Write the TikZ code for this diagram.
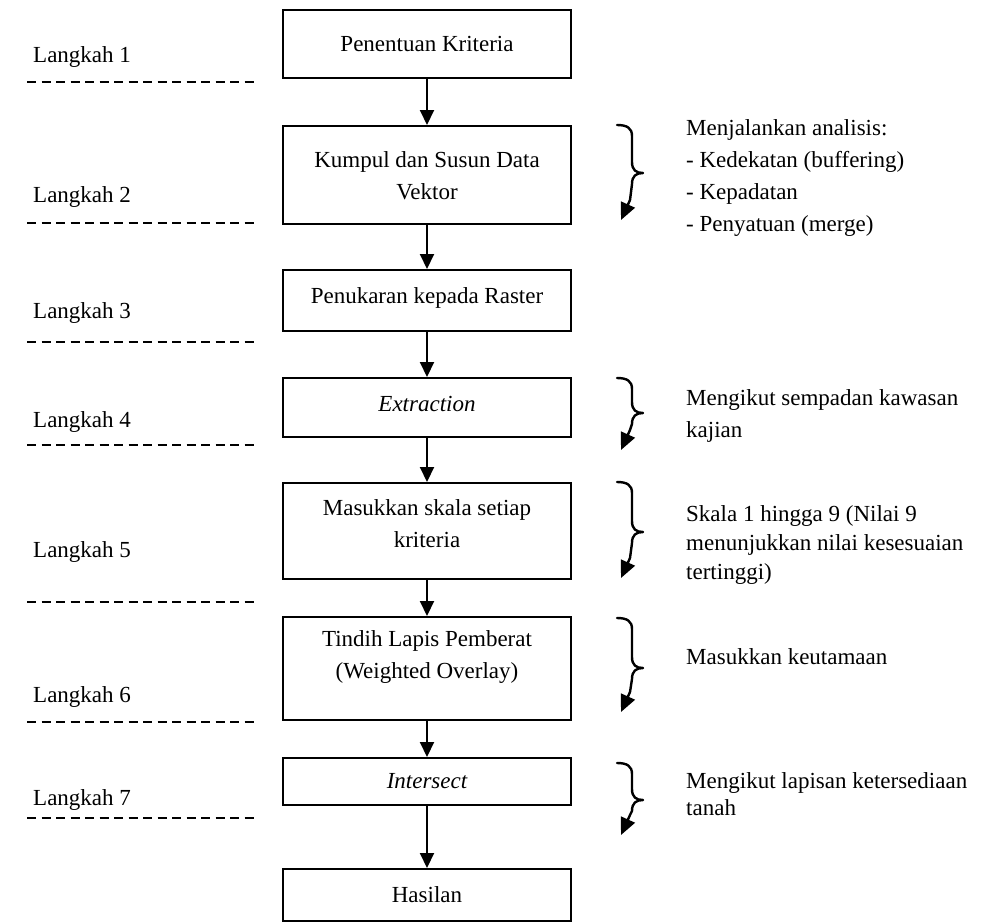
\documentclass[tikz,border=0pt]{standalone}
\usepackage{fontspec}
\setmainfont{Liberation Serif}
\usetikzlibrary{arrows.meta}
\begin{document}
\begin{tikzpicture}[x=1pt,y=-1pt,
  box/.style={draw,line width=2pt,minimum width=288pt,inner sep=0pt},
  txt/.style={font=\fontsize{23}{32}\selectfont,align=center,inner sep=0pt},
  side/.style={font=\fontsize{23}{#1}\selectfont,align=left,inner sep=0pt,anchor=west},
  side/.default=31,
  langlabel/.style={font=\fontsize{23}{28}\selectfont,inner sep=0pt,anchor=west},
  flow/.style={line width=2pt,-{Triangle[length=15pt,width=14pt]}},
  dashline/.style={line width=1.6pt,dash pattern=on 9pt off 5.5pt},
  brc/.style={line width=2.4pt,-{Triangle[length=17pt,width=15pt]},line join=round,line cap=round}
]
\useasboundingbox (0,0) rectangle (982,922);

\newcommand\mybrace[3]{%
  \draw[brc] (617,#1) .. controls (627,#1) and (632,#1+3) .. (632,#1+11)
    -- (632,#2-11) .. controls (632,#2-3) and (636,#2) .. (643,#2)
    .. controls (636,#2) and (632,#2+3) .. (632,#2+11)
    -- (630,#3-20) -- (621,#3);}

% boxes
\node[box,minimum height=68pt]  (b1) at (427,44) {};
\node[box,minimum height=98pt]  (b2) at (427,175) {};
\node[box,minimum height=61pt]  (b3) at (427,300.5) {};
\node[box,minimum height=59pt]  (b4) at (427,407.5) {};
\node[box,minimum height=96pt]  (b5) at (427,531) {};
\node[box,minimum height=103pt] (b6) at (427,668.5) {};
\node[box,minimum height=47pt]  (b7) at (427,781.5) {};
\node[box,minimum height=52pt]  (b8) at (427,895) {};

% box texts
\node[txt] (t1) at (427,44) {Penentuan Kriteria};
\node[txt] (t2) at (427,176) {Kumpul dan Susun Data\\Vektor};
\node[txt] (t3) at (427,298) {Penukaran kepada Raster};
\node[txt] (t4) at (427,404) {\itshape Extraction};
\node[txt] (t5) at (427,524) {Masukkan skala setiap\\kriteria};
\node[txt] (t6) at (427,657) {Tindih Lapis Pemberat\\(Weighted Overlay)};
\node[txt] (t7) at (427,781) {\itshape Intersect};
\node[txt] (t8) at (427,895) {Hasilan};

% arrows
\draw[flow] (b1) -- (b2);
\draw[flow] (b2) -- (b3);
\draw[flow] (b3) -- (b4);
\draw[flow] (b4) -- (b5);
\draw[flow] (b5) -- (b6);
\draw[flow] (b6) -- (b7);
\draw[flow] (b7) -- (b8);

% step labels and dashed lines
\node[langlabel] (l1) at (33,57) {Langkah 1};
\node[langlabel] (l2) at (33,197) {Langkah 2};
\node[langlabel] (l3) at (33,313) {Langkah 3};
\node[langlabel] (l4) at (33,422) {Langkah 4};
\node[langlabel] (l5) at (33,552) {Langkah 5};
\node[langlabel] (l6) at (33,697) {Langkah 6};
\node[langlabel] (l7) at (33,800) {Langkah 7};
\foreach \y in {82,223,342,445,602,722,818}
  \draw[dashline] (27,\y) -- (258,\y);

% braces
\mybrace{125}{173}{220}
\mybrace{378}{413}{450}
\mybrace{482}{532}{578}
\mybrace{618}{668}{712}
\mybrace{763}{800}{835}

% side notes
\node[side=31.7] (n2) at (686,178) {Menjalankan analisis:\\- Kedekatan (buffering)\\- Kepadatan\\- Penyatuan (merge)};
\node[side=32] (n4) at (686,416) {Mengikut sempadan kawasan\\kajian};
\node[side=29] (n5) at (686,545) {Skala 1 hingga 9 (Nilai 9\\menunjukkan nilai kesesuaian\\tertinggi)};
\node[side] (n6) at (686,657) {Masukkan keutamaan};
\node[side=27] (n7) at (686,794.5) {Mengikut lapisan ketersediaan\\tanah};
\end{tikzpicture}
\end{document}
